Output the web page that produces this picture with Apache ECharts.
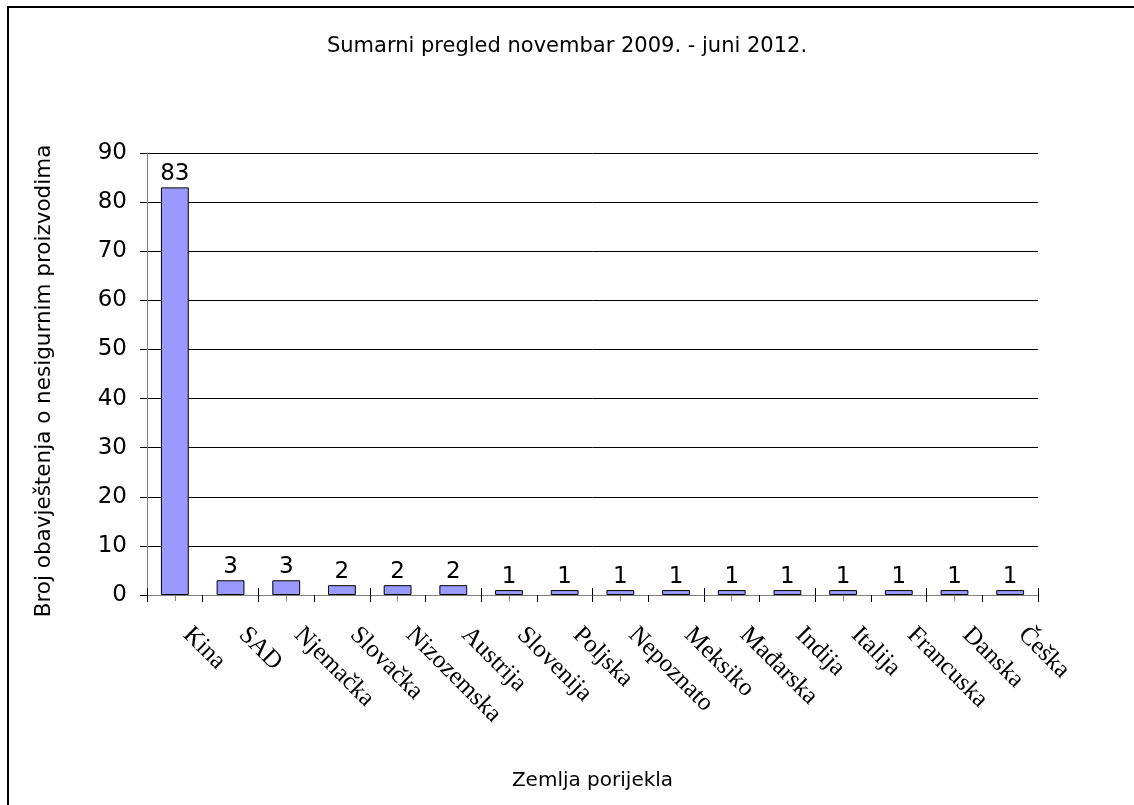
<!DOCTYPE html>
<html>
<head>
<meta charset="utf-8">
<script src="https://cdn.jsdelivr.net/npm/echarts@6/dist/echarts.min.js"></script>
<style>
  html, body { margin: 0; padding: 0; background: #fff; }
  #chart { width: 1134px; height: 805px; }
</style>
</head>
<body>
<div id="chart"></div>
<script>
// zemlje porijekla
const countries = ['Kina', 'SAD', 'Njemačka', 'Slovačka', 'Nizozemska', 'Austrija', 'Slovenija', 'Poljska',
  'Nepoznato', 'Meksiko', 'Mađarska', 'Indija', 'Italija', 'Francuska', 'Danska', 'Češka']
// broj obavještenja
const notices = [83, 3, 3, 2, 2, 2, 1, 1, 1, 1, 1, 1, 1, 1, 1, 1]
// podjela y osi
const yMin = 0
const yMax = 90
const yStep = 10

const chart = echarts.init(document.getElementById('chart'), null, { renderer: 'canvas' })

const sans = 'DejaVu Sans'
const serif = 'Liberation Serif'

const option = {
  animation: false,
  backgroundColor: '#fff',
  title: {
    text: 'Sumarni pregled novembar 2009. - juni 2012.',
    left: 'center',
    top: 31,
    textStyle: { fontFamily: sans, fontSize: 21, fontWeight: 'normal', color: '#000' }
  },
  // okvir oko cijelog grafikona
  graphic: [{
    type: 'rect',
    shape: { x: 8, y: 7, width: 1300, height: 1000 },
    style: { fill: 'none', stroke: '#000', lineWidth: 2 },
    silent: true
  }],
  grid: { left: 147, right: 96, top: 153, bottom: 210 },
  xAxis: [
    {
      type: 'category',
      data: countries,
      position: 'bottom',
      name: 'Zemlja porijekla',
      nameLocation: 'middle',
      nameGap: 176,
      nameMoveOverlap: false,
      nameTextStyle: { fontFamily: sans, fontSize: 20, color: '#000' },
      axisLine: { lineStyle: { color: '#808080', width: 1 } },
      axisTick: { show: true, alignWithLabel: false, length: 7, lineStyle: { color: '#000' } },
      axisLabel: {
        interval: 0,
        rotate: -45,
        margin: 24,
        padding: [0, 0, 0, 17],
        fontFamily: serif,
        fontSize: 25,
        color: '#000'
      }
    },
    {
      // gornji dio graničnih crtica
      type: 'category',
      data: countries,
      position: 'bottom',
      offset: 0,
      axisLine: { show: false },
      axisTick: { show: true, inside: true, alignWithLabel: false, length: 7, lineStyle: { color: '#000' } },
      axisLabel: { show: false }
    },
    {
      // crtice na sredini kategorije
      type: 'category',
      data: countries,
      position: 'bottom',
      offset: 0,
      axisLine: { show: false },
      axisTick: { show: true, alignWithLabel: true, length: 6, lineStyle: { color: '#808080' } },
      axisLabel: { show: false }
    }
  ],
  yAxis: {
    type: 'value',
    min: yMin,
    max: yMax,
    interval: yStep,
    name: 'Broj obavještenja o nesigurnim proizvodima',
    nameLocation: 'middle',
    nameRotate: 90,
    nameGap: 92,
    nameMoveOverlap: false,
    nameTextStyle: { fontFamily: sans, fontSize: 21.5, color: '#000', padding: [0, 14, 0, 0] },
    axisLine: { show: true, lineStyle: { color: '#808080', width: 1 } },
    axisTick: { show: true, length: 7, lineStyle: { color: '#000' } },
    axisLabel: { margin: 20, fontFamily: sans, fontSize: 23, color: '#000' },
    splitLine: { lineStyle: { color: '#000', width: 1 } }
  },
  series: [{
    type: 'bar',
    data: notices,
    barWidth: '50%',
    itemStyle: { color: '#9999ff', borderColor: '#000', borderWidth: 1 },
    label: {
      show: true,
      position: 'top',
      distance: 2,
      fontFamily: sans,
      fontSize: 23,
      color: '#000'
    }
  }]
}

chart.setOption(option)
</script>
</body>
</html>
